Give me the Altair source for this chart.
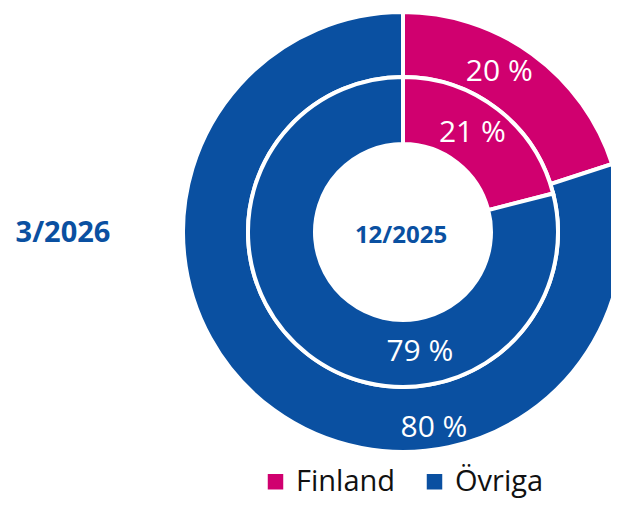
import altair as alt
import pandas as pd

categories = ["Finland", "Övriga"]
colors = ["#d0006f", "#0a50a1"]
outer_values = [20, 80]   # 3/2026
inner_values = [21, 79]   # 12/2025
outer_labels = ["20 %", "80 %"]
inner_labels = ["21 %", "79 %"]
outer_label_angle = [31, 171]
inner_label_angle = [35, 172]
outer_label_radius = [187, 198]
inner_label_radius = [121, 121]
outer_title = "3/2026"
inner_title = "12/2025"

FONT = "Open Sans"
CX, CY = 395, 224

outer = pd.DataFrame({"cat": categories, "value": outer_values, "order": [0, 1],
                      "label": outer_labels, "angle": outer_label_angle,
                      "r": outer_label_radius})
inner = pd.DataFrame({"cat": categories, "value": inner_values, "order": [0, 1],
                      "label": inner_labels, "angle": inner_label_angle,
                      "r": inner_label_radius})

color = alt.Color("cat:N", scale=alt.Scale(domain=categories, range=colors),
                  legend=alt.Legend(title=None, orient="none", direction="horizontal",
                                    legendX=253, legendY=459, symbolType="square",
                                    symbolSize=240, symbolStrokeWidth=0,
                                    labelFontSize=29, labelFont=FONT, labelColor="#111111",
                                    labelOffset=6, columnPadding=24, padding=0))

def ring(df, r1, r2):
    return alt.Chart(df).mark_arc(x=CX, y=CY, radius=r1, radius2=r2,
                                  stroke="white", strokeWidth=4).encode(
        theta=alt.Theta("value:Q", stack=True),
        color=color,
        order=alt.Order("order:Q"),
    )

def labels(df):
    return alt.Chart(df).mark_text(x=CX, y=CY, font=FONT, fontSize=30,
                                   color="white", align="center", baseline="middle").encode(
        theta=alt.Theta("angle:Q", stack=None,
                        scale=alt.Scale(domain=[0, 360], range=[0, 6.283185307])),
        radius=alt.Radius("r:Q", scale=None),
        text="label:N",
    )

titles = pd.DataFrame({"t": [outer_title, inner_title]})
t_outer = alt.Chart(titles.iloc[[0]]).mark_text(x=55, y=225, font=FONT, fontSize=29,
                                                fontWeight="bold", color="#0a50a1").encode(text="t:N")
t_inner = alt.Chart(titles.iloc[[1]]).mark_text(x=393, y=228, font=FONT, fontSize=24,
                                                fontWeight="bold", color="#0a50a1").encode(text="t:N")

chart = alt.layer(
    ring(outer, 220, 155), ring(inner, 155, 88),
    labels(outer), labels(inner),
    t_outer, t_inner,
).resolve_scale(theta="independent", radius="independent").properties(
    width=603, height=491, padding=0, autosize="none"
).configure_view(stroke=None)

chart.save("out.html", embed_options={"renderer": "svg", "actions": False})
